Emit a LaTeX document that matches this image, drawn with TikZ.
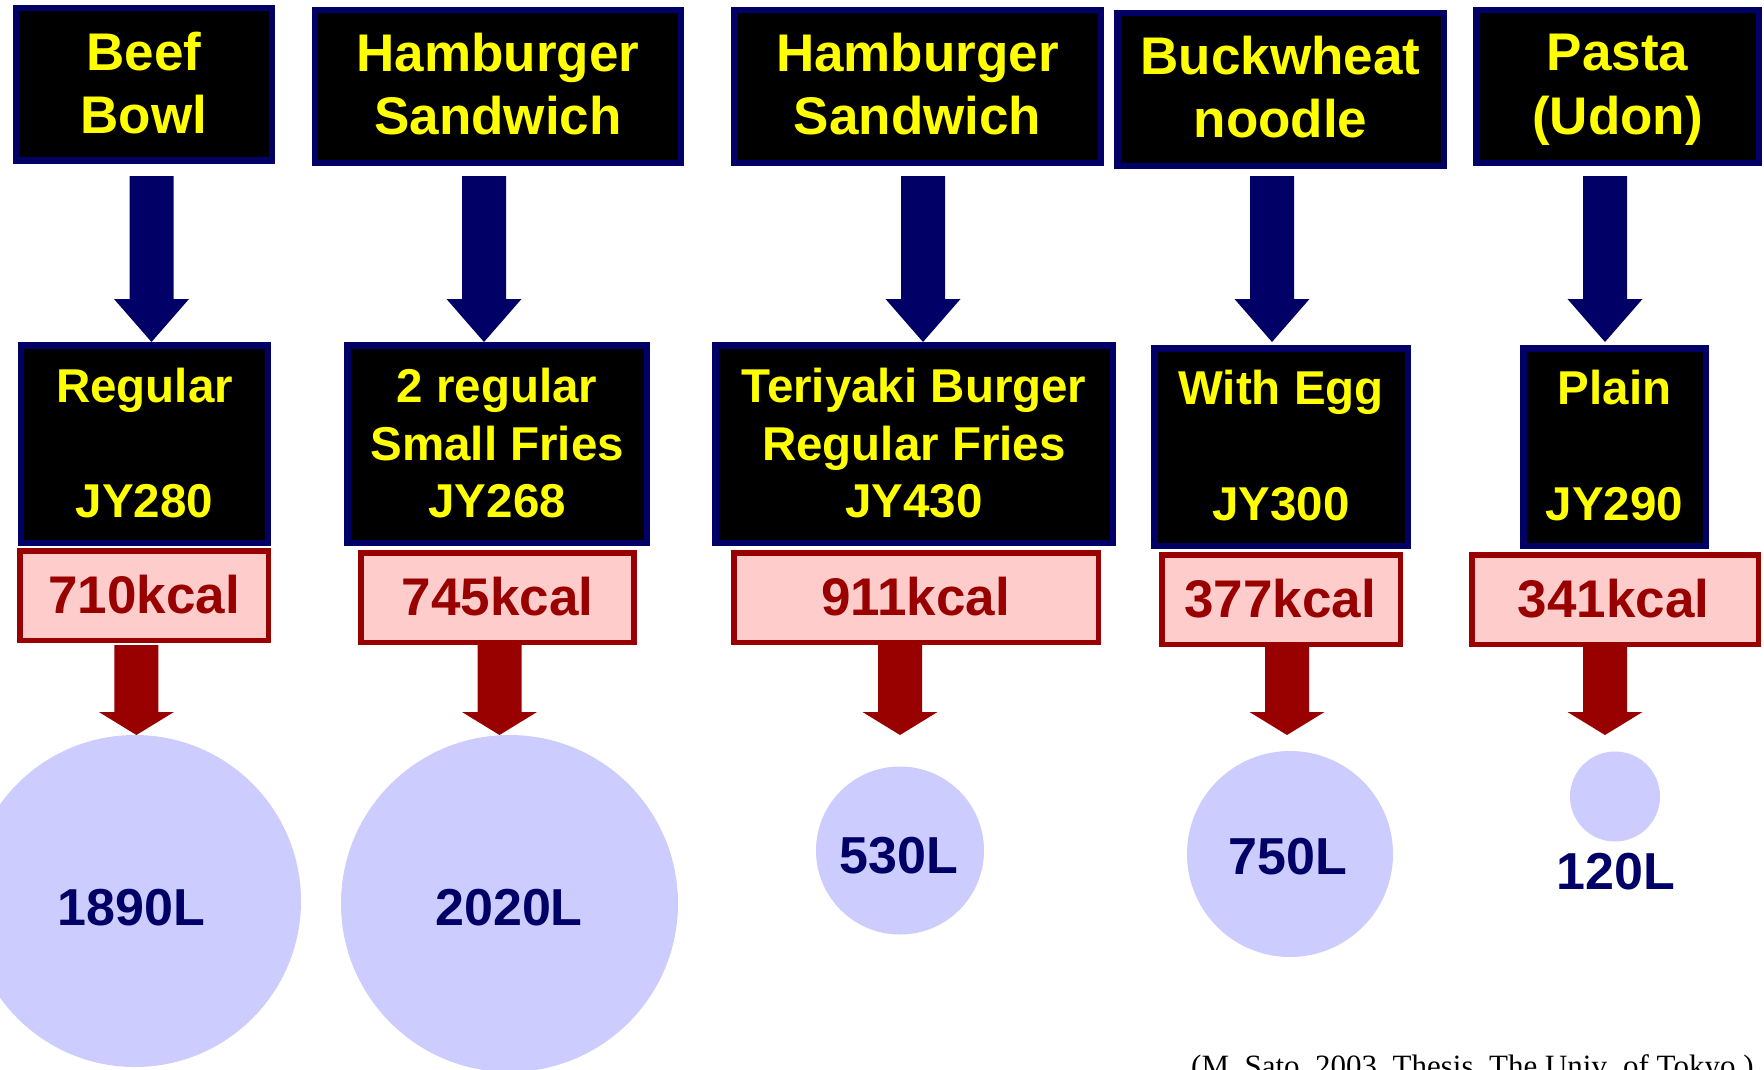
\documentclass[tikz,border=0pt]{standalone}
\usepackage{fontspec}
\setmainfont{Liberation Sans}
\newfontfamily\citefont{Liberation Serif}
\usetikzlibrary{calc}
\definecolor{navyc}{HTML}{000066}
\definecolor{yelc}{HTML}{FFFF00}
\definecolor{redc}{HTML}{990000}
\definecolor{pinkc}{HTML}{FFCCCC}
\definecolor{lavc}{HTML}{CCCCFF}
% #1 start, #2 tip, #3 half shaft, #4 half head, #5 head length, #6 colour
\newcommand\blkarrow[6]{\fill[#6] ($(#1)+(-#3,0)$) -- ($(#2)+(-#3,-#5)$) -- ($(#2)+(-#4,-#5)$) -- (#2) -- ($(#2)+(#4,-#5)$) -- ($(#2)+(#3,-#5)$) -- ($(#1)+(#3,0)$) -- cycle;}
\begin{document}
\begin{tikzpicture}[x=1pt,y=-1pt,
  topbox/.style={draw=navyc, fill=black, line width=6.5pt, inner sep=0pt, minimum height=152.5pt},
  midbox/.style={draw=navyc, fill=black, line width=6.5pt, inner sep=0pt, minimum height=197.5pt},
  kbox/.style={draw=redc, fill=pinkc, line width=5.5pt, inner sep=0pt, minimum height=89.5pt},
  bubble/.style={circle, fill=lavc, draw=none, inner sep=0pt},
  ttxt/.style={anchor=base, inner sep=0pt, text=yelc, font=\bfseries\fontsize{53}{63}\selectfont},
  mtxt/.style={anchor=base, inner sep=0pt, text=yelc, font=\bfseries\fontsize{47.5}{57}\selectfont},
  ktxt/.style={anchor=base, inner sep=0pt, text=redc, font=\bfseries\fontsize{53}{63}\selectfont},
  vtxt/.style={anchor=base, inner sep=0pt, text=navyc, font=\bfseries\fontsize{52}{62}\selectfont},
  ctxt/.style={anchor=base west, inner sep=0pt, text=black, font=\citefont\fontsize{31}{37}\selectfont}]
\useasboundingbox (0,0) rectangle (1764,1070);
\fill[white] (0,0) rectangle (1764,1070);
\clip (0,0) rectangle (1764,1070);

% circles
\node[bubble, minimum size=332pt] (c1) at (135,901) {};
\node[bubble, minimum size=337pt] (c2) at (509.5,903.5) {};
\node[bubble, minimum size=168pt] (c3) at (900,850.5) {};
\node[bubble, minimum size=206pt] (c4) at (1290,854) {};
\node[bubble, minimum size=90pt] (c5) at (1615,796.5) {};

% arrow coordinates
\coordinate (n1s) at (151.5,176); \coordinate (n1e) at (151.5,342);
\coordinate (n2s) at (484,176);   \coordinate (n2e) at (484,342);
\coordinate (n3s) at (923,176);   \coordinate (n3e) at (923,342);
\coordinate (n4s) at (1272,176);  \coordinate (n4e) at (1272,342);
\coordinate (n5s) at (1605,176);  \coordinate (n5e) at (1605,342);
\coordinate (r1s) at (136.4,645); \coordinate (r1e) at (136.4,735);
\coordinate (r2s) at (499.5,645); \coordinate (r2e) at (499.5,735);
\coordinate (r3s) at (900,645);   \coordinate (r3e) at (900,735);
\coordinate (r4s) at (1287,645);  \coordinate (r4e) at (1287,735);
\coordinate (r5s) at (1605,645);  \coordinate (r5e) at (1605,735);

\blkarrow{n1s}{n1e}{22}{37.5}{43}{navyc}
\blkarrow{n2s}{n2e}{22}{37.5}{43}{navyc}
\blkarrow{n3s}{n3e}{22}{37.5}{43}{navyc}
\blkarrow{n4s}{n4e}{22}{37.5}{43}{navyc}
\blkarrow{n5s}{n5e}{22}{37.5}{43}{navyc}
\blkarrow{r1s}{r1e}{22}{37.5}{23}{redc}
\blkarrow{r2s}{r2e}{22}{37.5}{23}{redc}
\blkarrow{r3s}{r3e}{22}{37.5}{23}{redc}
\blkarrow{r4s}{r4e}{22}{37.5}{23}{redc}
\blkarrow{r5s}{r5e}{22}{37.5}{23}{redc}

% top boxes
\node[topbox, minimum width=256.4pt] (t1) at (144,84.5) {};
\node[topbox, minimum width=365.9pt] (t2) at (497.8,86.5) {};
\node[topbox, minimum width=366.5pt] (t3) at (917.5,86.5) {};
\node[topbox, minimum width=326.5pt] (t4) at (1280.5,89.5) {};
\node[topbox, minimum width=282.5pt] (t5) at (1617.5,86.5) {};

% middle boxes
\node[midbox, minimum width=246.6pt] (m1) at (144.5,444) {};
\node[midbox, minimum width=299.9pt] (m2) at (497.2,444) {};
\node[midbox, minimum width=397.5pt] (m3) at (914,444) {};
\node[midbox, minimum width=253.5pt] (m4) at (1281,447) {};
\node[midbox, minimum width=182.5pt] (m5) at (1614.5,447) {};

% kcal boxes
\node[kbox, minimum width=248.9pt] (p1) at (144.2,595.5) {};
\node[kbox, minimum width=272.6pt] (p2) at (497.5,597.5) {};
\node[kbox, minimum width=364.5pt] (p3) at (916,597.5) {};
\node[kbox, minimum width=238.5pt] (p4) at (1281,599.5) {};
\node[kbox, minimum width=286.5pt] (p5) at (1615,599.5) {};

% top texts
\node[ttxt] (t1a) at (144,70.5) {Beef};
\node[ttxt] (t1b) at (144,133.5) {Bowl};
\node[ttxt] (t2a) at (498,72) {Hamburger};
\node[ttxt] (t2b) at (498,135) {Sandwich};
\node[ttxt] (t3a) at (917.5,72) {Hamburger};
\node[ttxt] (t3b) at (917.5,135) {Sandwich};
\node[ttxt] (t4a) at (1280.5,74.5) {Buckwheat};
\node[ttxt] (t4b) at (1280.5,137.5) {noodle};
\node[ttxt] (t5a) at (1617.5,71) {Pasta};
\node[ttxt] (t5b) at (1617.5,135) {(Udon)};

% middle texts
\node[mtxt] (m1a) at (144.5,402) {Regular};
\node[mtxt] (m1c) at (144.5,517) {JY280};
\node[mtxt] (m2a) at (497.2,402) {2 regular};
\node[mtxt] (m2b) at (497.2,460) {Small Fries};
\node[mtxt] (m2c) at (497.2,517) {JY268};
\node[mtxt] (m3a) at (914,402) {Teriyaki Burger};
\node[mtxt] (m3b) at (914,460) {Regular Fries};
\node[mtxt] (m3c) at (914,517) {JY430};
\node[mtxt] (m4a) at (1281,404.5) {With Egg};
\node[mtxt] (m4c) at (1281,520) {JY300};
\node[mtxt] (m5a) at (1614.5,404.5) {Plain};
\node[mtxt] (m5c) at (1614.5,520) {JY290};

% kcal texts
\node[ktxt] (k1) at (144,613.5) {710kcal};
\node[ktxt] (k2) at (497.5,615) {745kcal};
\node[ktxt] (k3) at (915.5,615) {911kcal};
\node[ktxt] (k4) at (1280,617) {377kcal};
\node[ktxt] (k5) at (1613.5,617) {341kcal};

% volume texts
\node[vtxt] (v1) at (131.6,925) {1890L};
\node[vtxt] (v2) at (509,925) {2020L};
\node[vtxt] (v3) at (899,873) {530L};
\node[vtxt] (v4) at (1288,874) {750L};
\node[vtxt] (v5) at (1616,889) {120L};

% source
\node[ctxt] (src) at (1191,1076) {(M. Sato, 2003, Thesis, The Univ. of Tokyo )};
\end{tikzpicture}
\end{document}
